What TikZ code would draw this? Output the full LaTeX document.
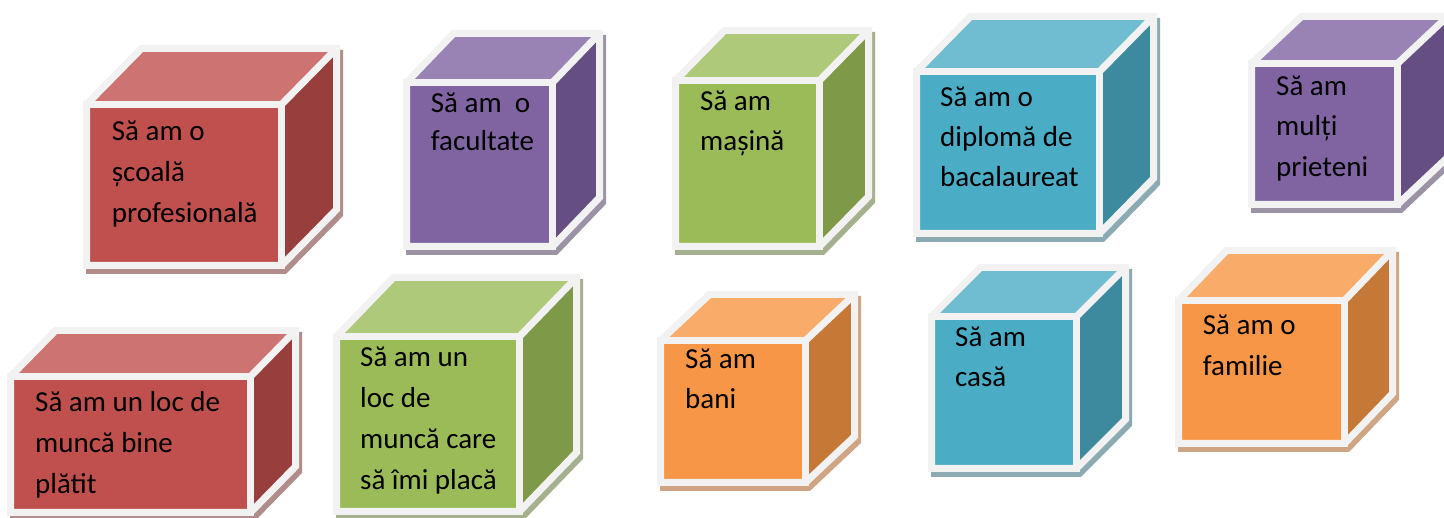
\documentclass[tikz,border=0pt]{standalone}
\usepackage{fontspec}
\setmainfont{Carlito}
\definecolor{wb}{HTML}{F2F2F2}
\definecolor{redf}{HTML}{C0504D}
\definecolor{redt}{HTML}{CD7371}
\definecolor{reds}{HTML}{983E3C}
\definecolor{redsh}{HTML}{B08C8B}
\definecolor{purf}{HTML}{8064A2}
\definecolor{purt}{HTML}{9983B5}
\definecolor{purs}{HTML}{654F82}
\definecolor{pursh}{HTML}{9B92A6}
\definecolor{grnf}{HTML}{9BBB59}
\definecolor{grnt}{HTML}{AFC97A}
\definecolor{grns}{HTML}{7E9947}
\definecolor{grnsh}{HTML}{A5B08F}
\definecolor{bluf}{HTML}{4BACC6}
\definecolor{blut}{HTML}{70BCD0}
\definecolor{blus}{HTML}{3D8A9E}
\definecolor{blush}{HTML}{8BAAB2}
\definecolor{orgf}{HTML}{F79646}
\definecolor{orgt}{HTML}{F9AC6A}
\definecolor{orgs}{HTML}{C67936}
\definecolor{orgsh}{HTML}{CFA584}
\tikzset{
  edge/.style={draw=wb, line width=7pt, line join=miter},
  txt/.style={align=left, anchor=north west, inner sep=0pt, text=black},
}
% #1 scheme, #2 L, #3 T, #4 R, #5 B, #6 dx, #7 dy, #8 name
\newcommand\cubebox[8]{%
  \begin{scope}[shift={(3,5)}]
    \filldraw[fill=#1sh, draw=#1sh, line width=7pt, line join=miter]
      (#2,#5) -- (#2,#3) -- ({#2+#6},{#3-#7}) -- ({#4+#6},{#3-#7})
      -- ({#4+#6},{#5-#7}) -- (#4,#5) -- cycle;
  \end{scope}
  \fill[#1t] (#2,#3) -- ({#2+#6},{#3-#7}) -- ({#4+#6},{#3-#7}) -- (#4,#3) -- cycle;
  \fill[#1s] (#4,#3) -- ({#4+#6},{#3-#7}) -- ({#4+#6},{#5-#7}) -- (#4,#5) -- cycle;
  \fill[#1f] (#2,#3) rectangle (#4,#5);
  \draw[edge] (#2,#5) -- (#2,#3) -- ({#2+#6},{#3-#7}) -- ({#4+#6},{#3-#7})
      -- ({#4+#6},{#5-#7}) -- (#4,#5) -- cycle;
  \draw[edge] (#2,#3) rectangle (#4,#5);
  \draw[edge] (#4,#3) -- ({#4+#6},{#3-#7});
  \coordinate (#8) at (#2,#3);
}
\begin{document}
\begin{tikzpicture}[x=1pt,y=-1pt]
\clip (0,0) rectangle (1444,518);
\fill[white] (0,0) rectangle (1444,518);
% top row
\cubebox{red}{86.5}{104.5}{281.5}{265.5}{55}{56}{c1}
\cubebox{pur}{406.5}{82.5}{552.5}{246.5}{47}{49}{c2}
\cubebox{grn}{675.5}{80.5}{819.5}{246.5}{49}{50}{c3}
\cubebox{blu}{916.5}{71.5}{1099.5}{233.5}{54}{55}{c4}
\cubebox{pur}{1251.5}{63.5}{1397.5}{204.5}{50}{47}{c5}
% bottom row
\cubebox{red}{10.5}{376.5}{250.5}{512.5}{45}{46}{c6}
\cubebox{grn}{336.5}{336.5}{519.5}{511.5}{57}{59}{c7}
\cubebox{org}{660.5}{340.5}{805.5}{482.5}{49}{46}{c8}
\cubebox{blu}{931.5}{316.5}{1076.5}{468.5}{49}{49}{c9}
\cubebox{org}{1178.5}{300.5}{1344.5}{443.5}{48}{50}{c10}
% texts
\node[txt, font=\fontsize{29}{41}\selectfont] (t1) at (111.7,112) {\strut Să am o\\școală\\profesională};
\node[txt, font=\fontsize{29}{38}\selectfont] (t2) at (430.7,86.1) {\strut Să am~~o\\facultate};
\node[txt, font=\fontsize{29}{40}\selectfont] (t3) at (700,82.7) {\strut Să am\\mașină};
\node[txt, font=\fontsize{29}{40}\selectfont] (t4) at (940,78) {\strut Să am o\\diplomă de\\bacalaureat};
\node[txt, font=\fontsize{29}{40.5}\selectfont] (t5) at (1276,66.65) {\strut Să am\\mulți\\prieteni};
\node[txt, font=\fontsize{29}{41}\selectfont] (t6) at (35,383) {\strut Să am un loc de\\muncă bine\\plătit};
\node[txt, font=\fontsize{29}{41}\selectfont] (t7) at (360,338) {\strut Să am un\\loc de\\muncă care\\să îmi placă};
\node[txt, font=\fontsize{29}{40}\selectfont] (t8) at (685,340.3) {\strut Să am\\bani};
\node[txt, font=\fontsize{29}{40}\selectfont] (t9) at (955,318) {\strut Să am\\casă};
\node[txt, font=\fontsize{29}{41}\selectfont] (t10) at (1202.7,305.3) {\strut Să am o\\familie};
\end{tikzpicture}
\end{document}
